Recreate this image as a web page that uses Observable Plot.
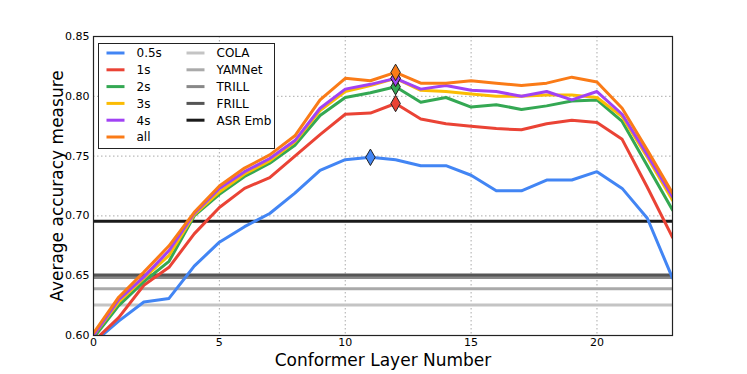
<!DOCTYPE html>
<html>
<head>
<meta charset="utf-8">
<script src="https://cdn.jsdelivr.net/npm/d3@7"></script>
<script src="https://cdn.jsdelivr.net/npm/@observablehq/plot@0.6"></script>
<style>
  body { margin: 0; background: #fff; }
  #wrap { width: 747px; height: 374px; }
</style>
</head>
<body>
<div id="wrap"></div>
<script>
// ---- data ----
const layers = d3.range(0, 24);
const seriesNames = ["0.5s", "1s", "2s", "3s", "4s", "all"];
const seriesColors = ["#4285f4", "#ea4335", "#34a853", "#fbbc04", "#a142f4", "#fa7b17"];
const s05  = [0.594, 0.612, 0.628, 0.631, 0.658, 0.678, 0.691, 0.702, 0.719, 0.738, 0.747, 0.749, 0.747, 0.742, 0.742, 0.734, 0.721, 0.721, 0.730, 0.730, 0.737, 0.723, 0.698, 0.648];
const s1   = [0.595, 0.615, 0.642, 0.657, 0.685, 0.707, 0.723, 0.732, 0.750, 0.768, 0.785, 0.786, 0.794, 0.781, 0.777, 0.775, 0.773, 0.772, 0.777, 0.780, 0.778, 0.764, 0.724, 0.682];
const s2   = [0.598, 0.625, 0.645, 0.662, 0.700, 0.718, 0.733, 0.744, 0.759, 0.784, 0.799, 0.803, 0.808, 0.795, 0.799, 0.791, 0.793, 0.789, 0.792, 0.796, 0.797, 0.779, 0.742, 0.705];
const s3   = [0.600, 0.628, 0.648, 0.667, 0.701, 0.720, 0.735, 0.746, 0.762, 0.788, 0.804, 0.809, 0.815, 0.805, 0.804, 0.802, 0.800, 0.800, 0.801, 0.801, 0.799, 0.783, 0.749, 0.713];
const s4   = [0.600, 0.630, 0.649, 0.671, 0.702, 0.723, 0.737, 0.748, 0.763, 0.790, 0.806, 0.810, 0.815, 0.806, 0.809, 0.805, 0.804, 0.800, 0.804, 0.797, 0.804, 0.785, 0.751, 0.716];
const sAll = [0.602, 0.632, 0.653, 0.675, 0.703, 0.725, 0.740, 0.751, 0.767, 0.797, 0.815, 0.813, 0.820, 0.811, 0.811, 0.813, 0.811, 0.809, 0.811, 0.816, 0.812, 0.790, 0.755, 0.719];
const seriesValues = [s05, s1, s2, s3, s4, sAll];
const bestLayer = [11, 12, 12, 12, 12, 12];

const baselineNames = ["COLA", "YAMNet", "TRILL", "FRILL", "ASR Emb"];
const baselineValues = [0.6255, 0.6390, 0.6485, 0.6505, 0.6955];
const baselineColors = ["#c4c4c4", "#aaaaaa", "#888888", "#555555", "#1a1a1a"];

const xTicks = [0, 5, 10, 15, 20];
const yTicks = [0.60, 0.65, 0.70, 0.75, 0.80, 0.85];
const xLabel = "Conformer Layer Number";
const yLabel = "Average accuracy measure";

// ---- build ----
const rows = seriesNames.flatMap((name, k) => layers.map((l, i) => ({series: name, layer: l, value: seriesValues[k][i]})));
const best = seriesNames.map((name, k) => ({series: name, layer: bestLayer[k], value: seriesValues[k][bestLayer[k]], color: seriesColors[k]}));
const baselines = baselineNames.map((name, k) => ({name, value: baselineValues[k], color: baselineColors[k]}));

const marks = [
  Plot.ruleX(xTicks, {stroke: "#aaa", strokeDasharray: "1.5,2.5", strokeWidth: 1}),
  Plot.ruleY(yTicks, {stroke: "#aaa", strokeDasharray: "1.5,2.5", strokeWidth: 1}),
  ...baselines.map(b => Plot.ruleY([b.value], {stroke: b.color, strokeWidth: 3})),
  ...seriesNames.map((name, k) => Plot.line(rows.filter(r => r.series === name), {x: "layer", y: "value", stroke: seriesColors[k], strokeWidth: 3, clip: true})),
  Plot.dot(best, {x: "layer", y: "value", symbol: "diamond", r: 5, fill: "color", stroke: "#222", strokeWidth: 1}),
  Plot.frame({stroke: "#222", strokeWidth: 1.2}),
  Plot.text([xLabel], {frameAnchor: "bottom", textAnchor: "middle", lineAnchor: "middle", dy: 25, fontSize: 17, fill: "#000"}),
  Plot.text([yLabel], {frameAnchor: "left", textAnchor: "middle", lineAnchor: "middle", dx: -36, rotate: -90, fontSize: 17, fill: "#000"})
];

const chart = Plot.plot({
  width: 747,
  height: 374,
  marginLeft: 93,
  marginRight: 75,
  marginTop: 36,
  marginBottom: 39,
  style: {fontFamily: "DejaVu Sans, sans-serif", fontSize: "11px", background: "white", color: "#000"},
  x: {domain: [0, 23], ticks: xTicks, tickSize: 0, tickPadding: 3, label: null},
  y: {domain: [0.60, 0.85], ticks: yTicks, tickSize: 0, tickPadding: 4, tickFormat: d3.format(".2f"), label: null},
  marks
});

document.getElementById("wrap").appendChild(chart);

// legend drawn inside the SVG
const svg = d3.select(chart);
const lg = svg.append("g").attr("transform", "translate(98.5,43.5)")
  .attr("font-family", "DejaVu Sans, sans-serif").attr("font-size", 12)
  .attr("text-anchor", "start");
lg.append("rect").attr("width", 176).attr("height", 105)
  .attr("fill", "white").attr("stroke", "#222").attr("stroke-width", 1);
const cols = [
  seriesNames.map((n, k) => ({name: n, color: seriesColors[k]})),
  baselineNames.map((n, k) => ({name: n, color: baselineColors[k]}))
];
cols.forEach((col, c) => {
  const g = lg.append("g").attr("transform", `translate(${c === 0 ? 8 : 88},9.5)`);
  const item = g.selectAll("g").data(col).join("g")
    .attr("transform", (d, i) => `translate(0,${i * 16.8})`);
  item.append("line").attr("x1", 0).attr("x2", 18).attr("y1", 0).attr("y2", 0)
    .attr("stroke", d => d.color).attr("stroke-width", 3);
  item.append("text").attr("x", 30).attr("y", 0).attr("dy", "0.36em")
    .attr("text-anchor", "start").attr("fill", "#000").text(d => d.name);
});
</script>
</body>
</html>
